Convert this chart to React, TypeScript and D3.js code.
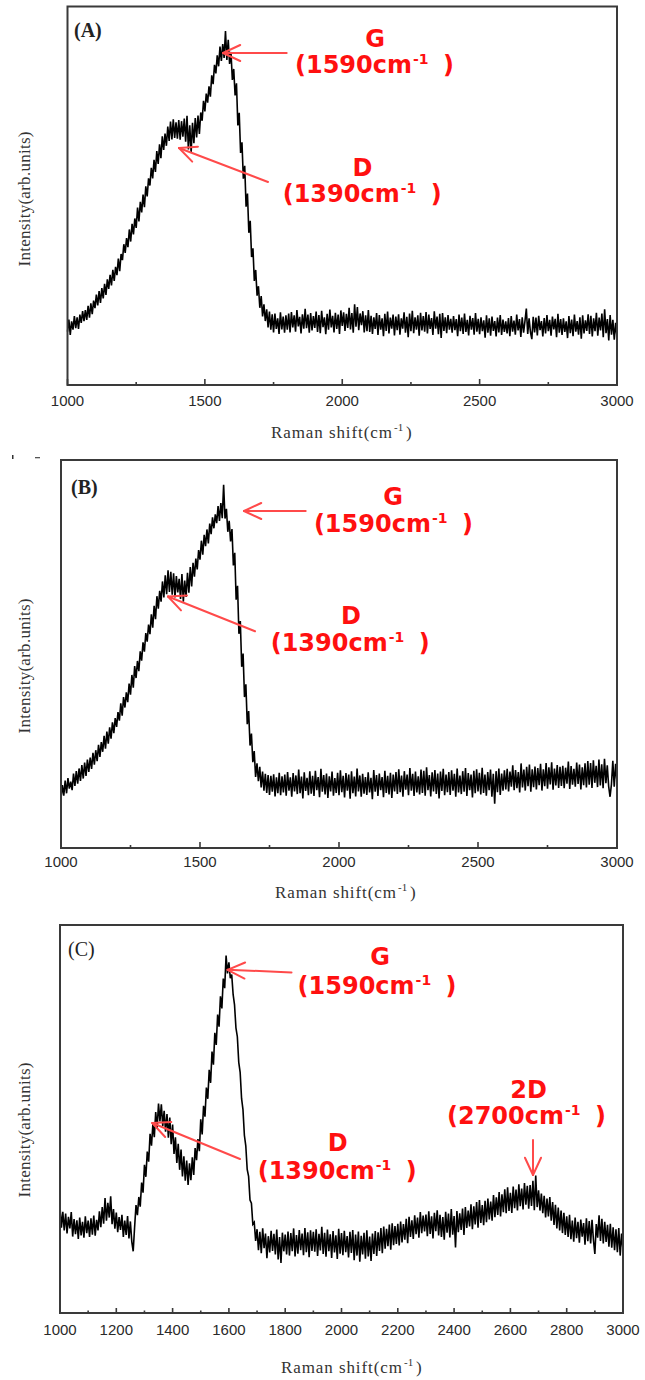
import React from 'react';
import * as d3 from 'd3';

// Raman shift grid (cm^-1), one reading every 5 cm^-1
const ramanShift: number[] = d3.range(1000, 3001, 5);

// Intensities (0 = bottom of frame, 100 = top of frame)
const intensityA: number[] = [
  14.1, 17.3, 13.2, 16.8, 14.6, 18.2, 15.0, 17.9, 14.8, 18.6, 16.4, 19.5, 16.9, 19.8, 17.2, 20.9, 17.8, 21.6, 18.7, 22.3,
  20.3, 23.9, 21.0, 24.8, 21.7, 25.6, 22.9, 26.7, 23.8, 27.9, 25.4, 29.1, 26.3, 30.4, 27.5, 31.2, 29.0, 33.4, 30.1, 34.6,
  33.0, 37.2, 34.9, 38.8, 36.4, 41.1, 37.9, 42.6, 39.8, 44.0, 41.5, 46.9, 43.2, 48.4, 45.6, 50.3, 47.0, 52.5, 49.8, 54.6,
  52.7, 57.4, 54.6, 59.5, 56.3, 61.8, 58.4, 63.6, 59.9, 65.7, 62.1, 66.4, 63.2, 68.3, 64.5, 69.6, 64.9, 70.2, 65.3, 69.4,
  65.1, 70.0, 64.8, 69.7, 65.6, 70.4, 64.3, 71.1, 62.2, 68.6, 61.5, 69.3, 63.9, 70.5, 65.4, 71.2, 66.3, 72.0, 69.8, 75.1,
  72.3, 77.0, 74.6, 78.9, 76.2, 81.8, 79.5, 84.6, 82.3, 87.1, 84.2, 89.4, 85.6, 90.1, 86.4, 93.5, 85.9, 91.2, 84.8, 88.0,
  80.6, 83.5, 76.5, 79.7, 68.6, 71.9, 61.3, 64.1, 54.5, 57.9, 47.1, 50.6, 40.2, 43.4, 33.8, 36.1, 27.5, 30.4, 23.6, 26.1,
  20.4, 23.5, 18.1, 21.3, 16.9, 20.0, 15.2, 19.4, 14.6, 18.7, 13.9, 18.9, 14.8, 17.6, 13.5, 19.2, 14.7, 18.1, 13.8, 18.4,
  14.6, 18.9, 13.9, 19.3, 15.2, 18.4, 14.1, 19.8, 15.5, 18.0, 13.6, 18.7, 14.9, 20.1, 15.0, 18.6, 13.8, 19.0, 14.4, 18.2,
  15.1, 19.4, 14.0, 18.5, 13.7, 19.6, 15.3, 17.9, 13.4, 18.8, 14.6, 19.9, 15.2, 18.3, 13.9, 19.1, 14.8, 18.6, 13.5, 19.7,
  15.6, 19.2, 14.3, 18.8, 15.1, 20.4, 14.7, 19.0, 13.8, 21.3, 15.4, 20.6, 14.5, 18.9, 15.8, 19.5, 13.9, 18.4, 14.2, 19.8,
  14.0, 18.3, 13.5, 17.9, 14.8, 19.0, 13.2, 18.5, 14.6, 17.6, 12.9, 18.8, 14.3, 19.4, 13.6, 17.8, 14.9, 18.6, 13.1, 18.1,
  14.5, 18.7, 13.3, 17.6, 14.9, 19.2, 13.8, 18.0, 12.6, 18.9, 14.2, 19.6, 13.7, 17.9, 14.6, 18.4, 13.0, 19.1, 14.4, 18.2,
  14.1, 19.3, 13.6, 18.6, 14.8, 17.7, 13.2, 19.5, 14.9, 18.1, 13.4, 18.8, 12.4, 19.0, 14.3, 17.9, 13.7, 18.5, 14.6, 17.5,
  13.8, 18.2, 14.5, 17.4, 12.9, 18.6, 14.2, 17.8, 13.5, 18.9, 14.0, 17.2, 13.1, 18.3, 14.6, 17.7, 13.3, 19.0, 14.1, 17.5,
  13.4, 17.9, 14.2, 17.1, 12.5, 18.4, 13.8, 17.6, 13.0, 18.1, 14.3, 16.9, 12.8, 17.8, 13.9, 18.5, 13.2, 17.3, 14.0, 16.8,
  13.6, 17.7, 12.9, 18.2, 14.1, 17.0, 13.3, 18.6, 14.4, 17.4, 12.7, 17.9, 13.8, 16.9, 20.2, 13.5, 17.6, 14.0, 12.1, 18.0,
  13.9, 17.8, 13.1, 18.3, 14.5, 16.9, 12.8, 17.7, 13.6, 18.5, 14.2, 17.2, 13.0, 18.1, 14.7, 17.5, 12.6, 18.8, 13.8, 17.4,
  13.2, 17.6, 14.0, 16.8, 12.4, 18.2, 13.7, 17.3, 12.9, 18.6, 14.1, 16.9, 13.3, 17.9, 12.2, 18.4, 13.6, 17.1, 14.3, 18.7,
  13.5, 18.3, 12.8, 17.6, 14.2, 19.1, 13.0, 17.8, 14.4, 18.9, 12.6, 20.0, 13.7, 17.4, 11.8, 18.5, 13.3, 17.2, 12.0, 16.4,
  12.8,
];

const intensityB: number[] = [
  12.8, 16.2, 13.5, 17.4, 14.1, 18.0, 15.3, 17.1, 14.9, 19.2, 16.0, 19.8, 16.6, 20.5, 17.3, 21.4, 17.9, 22.0, 18.6, 22.8,
  19.6, 23.3, 20.4, 24.5, 21.5, 25.2, 22.4, 26.6, 23.5, 27.3, 24.8, 28.9, 25.6, 30.0, 26.9, 31.1, 28.2, 32.4, 29.6, 33.5,
  31.2, 35.0, 32.8, 37.3, 34.1, 38.9, 36.2, 40.1, 37.6, 42.4, 39.5, 44.6, 41.3, 46.9, 43.8, 48.2, 45.6, 50.7, 48.3, 53.0,
  50.6, 55.4, 53.2, 57.6, 55.1, 60.2, 56.8, 62.4, 59.0, 64.9, 61.7, 66.3, 63.5, 68.7, 64.6, 70.3, 65.4, 71.6, 66.0, 71.2,
  65.3, 70.8, 64.6, 70.1, 65.9, 69.4, 64.2, 70.6, 63.5, 68.9, 64.7, 70.9, 65.8, 72.4, 67.4, 73.5, 69.9, 74.6, 71.8, 76.8,
  74.3, 79.2, 75.6, 80.7, 77.8, 82.1, 78.5, 83.6, 80.9, 85.2, 82.4, 86.0, 83.7, 88.1, 84.3, 88.9, 85.0, 93.6, 84.9, 87.4,
  81.5, 84.3, 79.0, 82.2, 72.8, 76.1, 64.0, 67.6, 55.2, 58.5, 46.7, 50.1, 38.9, 42.2, 31.9, 35.3, 26.4, 29.5, 22.1, 25.0,
  18.3, 21.8, 17.2, 20.9, 15.6, 19.7, 14.8, 19.1, 14.2, 18.8, 13.7, 18.6, 14.5, 19.0, 13.3, 18.2, 14.1, 19.4, 13.6, 18.5,
  14.3, 18.9, 13.5, 19.6, 14.8, 18.2, 13.2, 19.3, 14.6, 18.7, 13.9, 20.2, 14.1, 18.4, 12.8, 19.5, 14.7, 18.1, 13.6, 19.8,
  14.0, 18.6, 13.4, 19.9, 14.9, 18.3, 13.1, 20.4, 14.5, 18.8, 13.8, 19.2, 12.9, 18.5, 14.6, 19.7, 13.5, 18.0, 14.2, 19.4,
  13.6, 20.0, 14.4, 18.6, 13.0, 19.3, 14.8, 18.9, 12.7, 19.8, 14.1, 18.4, 13.3, 20.5, 14.6, 18.7, 13.2, 19.1, 14.0, 18.3,
  13.7, 19.5, 14.3, 18.1, 12.6, 20.1, 14.5, 18.8, 13.4, 19.2, 14.9, 18.3, 13.1, 19.9, 14.2, 18.6, 13.8, 19.4, 12.9, 18.9,
  14.6, 19.6, 13.9, 20.3, 14.4, 18.7, 13.2, 19.8, 15.0, 18.9, 13.6, 20.6, 14.8, 19.1, 13.4, 19.7, 14.3, 18.5, 13.8, 20.2,
  14.2, 19.9, 13.5, 20.8, 14.9, 18.8, 13.3, 19.5, 14.6, 20.1, 13.9, 19.2, 12.8, 19.7, 14.7, 20.4, 13.6, 18.9, 14.4, 19.6,
  13.7, 20.0, 14.8, 19.1, 13.2, 20.5, 14.3, 18.7, 13.9, 19.8, 14.5, 20.6, 13.4, 19.3, 14.9, 18.9, 13.0, 19.9, 14.1, 20.3,
  14.6, 19.4, 13.8, 20.7, 14.2, 18.9, 13.5, 19.6, 14.9, 20.2, 13.2, 19.1, 11.4, 19.8, 14.4, 20.5, 13.7, 19.2, 14.8, 20.0,
  15.1, 20.4, 14.6, 19.7, 15.8, 21.3, 14.9, 20.1, 15.4, 19.6, 14.3, 21.8, 15.6, 20.2, 14.8, 20.9, 15.9, 21.5, 14.5, 20.3,
  15.7, 21.0, 15.1, 20.6, 16.2, 21.7, 14.8, 20.3, 15.9, 21.9, 15.3, 20.8, 16.4, 22.1, 15.0, 20.5, 16.1, 21.4, 15.5, 20.9,
  16.0, 21.2, 15.4, 20.7, 16.6, 22.3, 15.2, 21.1, 16.3, 20.4, 15.8, 22.0, 16.5, 21.5, 15.1, 20.8, 16.2, 21.8, 15.6, 22.4,
  16.3, 21.9, 15.5, 22.6, 16.8, 21.2, 15.7, 22.8, 16.1, 21.6, 15.4, 23.0, 16.7, 21.3, 15.9, 13.2, 16.4, 22.5, 15.8, 21.7,
  16.9,
];

const intensityC: number[] = [
  27.4, 22.0, 26.1, 21.3, 25.6, 20.5, 24.8, 21.8, 26.0, 19.7, 24.2, 20.3, 23.9, 19.1, 24.6, 20.0, 23.5, 19.4, 24.9, 20.6,
  23.8, 19.6, 24.4, 20.2, 25.1, 19.9, 24.0, 21.3, 26.2, 22.1, 27.3, 23.0, 29.6, 23.8, 28.4, 24.6, 30.1, 22.9, 26.8, 21.7,
  25.9, 20.8, 24.7, 21.4, 25.3, 19.6, 23.8, 20.1, 25.0, 19.2, 23.6, 18.4, 15.9, 22.1, 27.8, 25.2, 29.9, 27.4, 33.6, 31.0,
  38.2, 35.1, 41.6, 39.0, 46.2, 43.1, 48.7, 45.3, 51.8, 47.6, 54.0, 49.4, 53.8, 48.2, 52.1, 46.7, 51.3, 45.2, 50.4, 43.5,
  48.6, 41.0, 45.3, 38.7, 43.6, 36.9, 42.1, 35.2, 40.4, 34.1, 39.3, 33.0, 38.6, 34.2, 40.1, 35.6, 42.5, 39.4, 44.8, 41.7,
  49.9, 46.0, 53.4, 50.6, 58.1, 55.2, 62.7, 59.3, 67.4, 64.0, 72.2, 69.1, 76.9, 73.8, 81.6, 78.5, 86.2, 83.7, 92.1, 87.5,
  90.4, 86.3, 87.2, 82.1, 79.4, 73.5, 71.2, 64.6, 62.0, 55.3, 52.4, 45.8, 43.1, 37.0, 35.2, 29.1, 28.3, 22.9, 23.4, 18.6,
  21.6, 16.2, 20.9, 15.4, 21.8, 16.7, 20.5, 14.1, 19.8, 15.6, 21.2, 16.0, 20.4, 15.1, 21.5, 13.8, 19.6, 12.9, 20.7, 15.9,
  20.2, 15.1, 21.0, 14.8, 20.6, 15.9, 21.8, 14.6, 20.1, 15.3, 21.4, 16.2, 20.5, 14.9, 21.9, 15.7, 20.8, 14.4, 21.3, 16.0,
  20.9, 15.8, 21.6, 14.7, 20.4, 16.1, 22.2, 15.2, 20.7, 14.5, 21.5, 15.9, 20.3, 14.2, 21.1, 15.6, 20.0, 13.9, 21.7, 15.3,
  20.6, 14.9, 21.2, 15.7, 19.8, 14.3, 20.9, 15.5, 21.4, 13.6, 20.2, 14.8, 21.0, 13.2, 19.9, 15.1, 20.7, 14.0, 21.3, 14.6,
  19.7, 13.4, 20.5, 15.2, 21.1, 14.7, 20.8, 16.0, 21.9, 15.4, 22.3, 16.6, 21.7, 17.2, 22.8, 16.3, 23.1, 17.5, 22.4, 17.8,
  23.0, 17.4, 23.6, 18.2, 22.9, 18.9, 24.3, 18.0, 24.8, 19.6, 23.9, 19.1, 25.2, 20.3, 24.6, 19.4, 26.0, 20.6, 25.1, 21.0,
  25.4, 19.8, 26.2, 20.4, 24.9, 19.2, 25.8, 21.1, 26.5, 20.0, 25.3, 19.6, 24.7, 18.9, 26.1, 20.7, 25.6, 19.5, 26.8, 20.2,
  25.0, 16.9, 26.3, 20.8, 25.7, 21.4, 26.9, 20.1, 27.3, 21.9, 26.4, 22.3, 28.0, 21.6, 27.5, 22.8, 28.6, 22.0, 29.1, 23.2,
  27.8, 22.6, 28.9, 23.4, 29.5, 24.1, 28.7, 23.8, 30.4, 24.7, 29.8, 25.3, 31.2, 24.9, 30.6, 26.0, 31.9, 25.7, 32.4, 26.3,
  31.0, 25.8, 32.6, 27.0, 31.8, 26.4, 33.2, 27.5, 32.1, 26.7, 33.5, 27.9, 32.8, 26.9, 33.0, 27.6, 34.1, 26.5, 35.4, 27.3,
  31.6, 26.4, 30.8, 25.7, 30.2, 24.6, 29.5, 24.9, 29.9, 23.8, 28.6, 22.7, 27.9, 21.8, 27.2, 21.3, 26.4, 20.6, 25.8, 20.1,
  24.9, 19.6, 25.3, 19.0, 23.8, 18.4, 24.6, 19.3, 23.5, 18.1, 24.1, 19.7, 23.2, 17.6, 24.4, 18.5, 23.7, 17.9, 24.0, 18.8,
  15.2, 22.9, 19.4, 25.2, 18.6, 24.3, 17.9, 23.5, 18.3, 22.7, 17.1, 23.0, 16.8, 22.1, 16.2, 21.6, 15.7, 21.9, 14.8, 20.5,
  16.3,
];

// Axis ticks
const majorTicksAB: number[] = [1000, 1500, 2000, 2500, 3000];
const minorTicksAB: number[] = [1250, 1750, 2250, 2750];
const majorTicksC: number[] = [1000, 1200, 1400, 1600, 1800, 2000, 2200, 2400, 2600, 2800, 3000];
const minorTicksC: number[] = [1100, 1300, 1500, 1700, 1900, 2100, 2300, 2500, 2700, 2900];

const panelTags: string[] = ['(A)', '(B)', '(C)'];
const bandNames: string[] = ['G', 'D', '2D'];
const bandShifts: string[] = ['1590', '1390', '2700'];

const RED = '#ff1010';
const ARROW = '#ff4a4a';

type Frame = { l: number; t: number; r: number; b: number };
type Note = {
  name: string;
  shift: string;
  hx: number;
  hy: number;
  nx: number;
  ny: number;
  arrow: [number, number, number, number];
};

function Arrow({ a }: { a: [number, number, number, number] }) {
  const [x1, y1, x2, y2] = a;
  const ang = Math.atan2(y2 - y1, x2 - x1);
  const len = 19;
  const spread = (25 * Math.PI) / 180;
  const p1 = [x2 - len * Math.cos(ang - spread), y2 - len * Math.sin(ang - spread)];
  const p2 = [x2 - len * Math.cos(ang + spread), y2 - len * Math.sin(ang + spread)];
  return (
    <g stroke={ARROW} strokeWidth={2} fill="none" strokeLinecap="round">
      <line x1={x1} y1={y1} x2={x2} y2={y2} />
      <line x1={p1[0]} y1={p1[1]} x2={x2} y2={y2} />
      <line x1={p2[0]} y1={p2[1]} x2={x2} y2={y2} />
    </g>
  );
}

function Annotation({ n }: { n: Note }) {
  const font = "'DejaVu Sans', Verdana, sans-serif";
  return (
    <g fill={RED} fontFamily={font} fontWeight="bold">
      <text x={n.hx} y={n.hy} fontSize={24} textAnchor="middle">
        {n.name}
      </text>
      <text x={n.nx} y={n.ny} fontSize={24} textLength={117} lengthAdjust="spacingAndGlyphs">
        {'(' + n.shift + 'cm'}
      </text>
      <text x={n.nx + 118} y={n.ny - 9} fontSize={14}>
        -1
      </text>
      <text x={n.nx + 148} y={n.ny} fontSize={24}>
        )
      </text>
      <Arrow a={n.arrow} />
    </g>
  );
}

type PanelProps = {
  data: number[];
  f: Frame;
  major: number[];
  minor: number[];
  majorLen: number;
  minorLen: number;
  tickY: number;
  tag: string;
  tagX: number;
  tagY: number;
  tagWeight: string;
  yTitleY: number;
  xTitleX: number;
  xTitleY: number;
  notes: Note[];
};

function Panel(p: PanelProps) {
  const { f } = p;
  const x = d3.scaleLinear().domain([1000, 3000]).range([f.l, f.r]);
  const y = d3.scaleLinear().domain([0, 100]).range([f.b, f.t]);
  const line = d3
    .line<number>()
    .x((_, i) => x(ramanShift[i]))
    .y((d) => y(d));
  const serif = "'Liberation Serif', 'Times New Roman', serif";
  const sans = "'Liberation Sans', Arial, sans-serif";
  return (
    <g>
      <path d={line(p.data) || ''} fill="none" stroke="#000" strokeWidth={1.6} strokeLinejoin="miter" />
      <rect x={f.l} y={f.t} width={f.r - f.l} height={f.b - f.t} fill="none" stroke="#3a3a3a" strokeWidth={2} />
      {p.major.map((t) => (
        <line key={'M' + t} x1={x(t)} x2={x(t)} y1={f.b} y2={f.b - p.majorLen} stroke="#3a3a3a" strokeWidth={1.6} />
      ))}
      {p.minor.map((t) => (
        <line key={'m' + t} x1={x(t)} x2={x(t)} y1={f.b} y2={f.b - p.minorLen} stroke="#3a3a3a" strokeWidth={1.6} />
      ))}
      {p.major.map((t) => (
        <text key={'L' + t} x={x(t)} y={p.tickY} fontFamily={sans} fontSize={15} fill="#2a2a2a" textAnchor="middle">
          {t}
        </text>
      ))}
      <text x={p.tagX} y={p.tagY} fontFamily={serif} fontSize={20} fontWeight={p.tagWeight} fill="#222">
        {p.tag}
      </text>
      <text
        transform={`translate(30,${p.yTitleY}) rotate(-90)`}
        fontFamily={serif}
        fontSize={17}
        fill="#333"
        textAnchor="middle"
        textLength={135}
        lengthAdjust="spacing"
      >
        Intensity(arb.units)
      </text>
      <g fontFamily={serif} fill="#333">
        <text x={p.xTitleX} y={p.xTitleY} fontSize={17} textLength={121} lengthAdjust="spacing">
          Raman shift(cm
        </text>
        <text x={p.xTitleX + 123} y={p.xTitleY - 7} fontSize={11}>
          -1
        </text>
        <text x={p.xTitleX + 135} y={p.xTitleY} fontSize={17}>
          )
        </text>
      </g>
      {p.notes.map((n, i) => (
        <Annotation key={i} n={n} />
      ))}
    </g>
  );
}

export default function App() {
  const notesA: Note[] = [
    { name: bandNames[0], shift: bandShifts[0], hx: 375, hy: 46.7, nx: 295, ny: 73.3, arrow: [286.7, 53, 223, 53] },
    { name: bandNames[1], shift: bandShifts[1], hx: 362.5, hy: 175.5, nx: 282.7, ny: 201.5, arrow: [268, 182, 179, 148] },
  ];
  const notesB: Note[] = [
    { name: bandNames[0], shift: bandShifts[0], hx: 393, hy: 505, nx: 313.9, ny: 532, arrow: [305.7, 511, 244, 511] },
    { name: bandNames[1], shift: bandShifts[1], hx: 351, hy: 624, nx: 270.7, ny: 651, arrow: [255, 631.3, 168, 596.5] },
  ];
  const notesC: Note[] = [
    { name: bandNames[0], shift: bandShifts[0], hx: 380, hy: 965, nx: 297.6, ny: 993.7, arrow: [291.5, 972.4, 227.6, 969.8] },
    { name: bandNames[1], shift: bandShifts[1], hx: 337.6, hy: 1151, nx: 257.7, ny: 1179, arrow: [240, 1159, 152.3, 1123] },
    { name: bandNames[2], shift: bandShifts[2], hx: 528.5, hy: 1098, nx: 447, ny: 1124, arrow: [533, 1140, 533, 1175] },
  ];
  return (
    <svg
      width={645}
      height={1380}
      viewBox="0 0 645 1380"
      style={{ position: 'absolute', left: 0, top: 0, background: '#fff' }}
    >
      <rect x={0} y={0} width={645} height={1380} fill="#fff" />
      <Panel
        data={intensityA}
        f={{ l: 67.5, t: 6.5, r: 617, b: 385 }}
        major={majorTicksAB}
        minor={minorTicksAB}
        majorLen={6}
        minorLen={3}
        tickY={406}
        tag={panelTags[0]}
        tagX={74}
        tagY={37}
        tagWeight="bold"
        yTitleY={199}
        xTitleX={271}
        xTitleY={438}
        notes={notesA}
      />
      <Panel
        data={intensityB}
        f={{ l: 61, t: 460, r: 617, b: 848 }}
        major={majorTicksAB}
        minor={minorTicksAB}
        majorLen={6}
        minorLen={3}
        tickY={866.5}
        tag={panelTags[1]}
        tagX={71}
        tagY={494}
        tagWeight="bold"
        yTitleY={666}
        xTitleX={275}
        xTitleY={898}
        notes={notesB}
      />
      <Panel
        data={intensityC}
        f={{ l: 60, t: 925, r: 623, b: 1313 }}
        major={majorTicksC}
        minor={minorTicksC}
        majorLen={5}
        minorLen={2.5}
        tickY={1335}
        tag={panelTags[2]}
        tagX={68}
        tagY={956}
        tagWeight="normal"
        yTitleY={1130}
        xTitleX={281}
        xTitleY={1373}
        notes={notesC}
      />
      <rect x={12} y={455} width={1.5} height={4} fill="#333" />
      <rect x={35} y={457} width={5} height={1.3} fill="#555" />
    </svg>
  );
}
